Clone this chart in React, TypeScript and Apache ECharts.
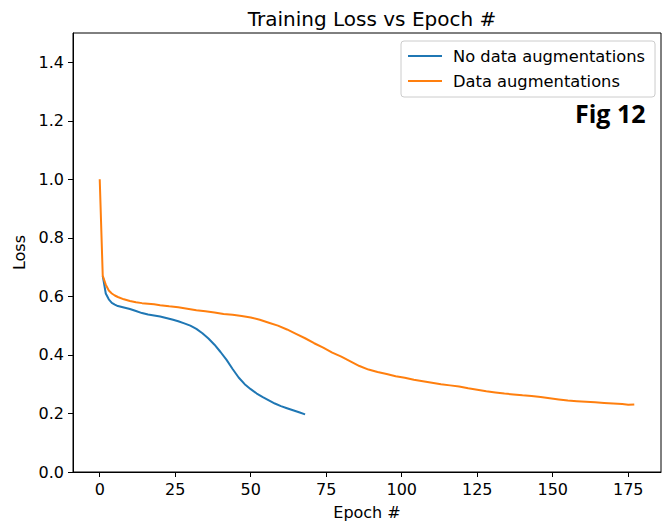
import React, { useEffect, useRef } from "react";
import * as echarts from "echarts";

const xTicks = [0, 25, 50, 75, 100, 125, 150, 175];
const yTicks = [0, 0.2, 0.4, 0.6, 0.8, 1.0, 1.2, 1.4];

const blueEpochs = [1, 2, 3, 4, 5, 6, 8, 10, 12, 14, 16, 18, 20, 22, 24, 26, 28, 30, 32, 34, 36, 38, 40, 42, 44, 46, 48, 50, 52, 54, 56, 58, 60, 62, 64, 66, 68];
const blueLoss = [0.67, 0.61, 0.59, 0.578, 0.572, 0.567, 0.562, 0.557, 0.55, 0.543, 0.538, 0.535, 0.531, 0.526, 0.521, 0.515, 0.508, 0.5, 0.489, 0.474, 0.456, 0.435, 0.41, 0.383, 0.352, 0.323, 0.3, 0.283, 0.268, 0.256, 0.245, 0.234, 0.225, 0.218, 0.211, 0.204, 0.197];

const orangeEpochs = [0, 1, 2, 3, 4, 5, 6, 8, 10, 12, 14, 16, 18, 20, 23, 26, 29, 32, 35, 38, 41, 44, 47, 50, 53, 56, 59, 62, 65, 68, 71, 74, 77, 80, 83, 86, 89, 92, 95, 98, 101, 104, 107, 110, 113, 116, 119, 122, 125, 128, 131, 134, 137, 140, 143, 146, 149, 152, 155, 158, 161, 164, 167, 170, 173, 175, 177];
const orangeLoss = [1.0, 0.67, 0.64, 0.62, 0.61, 0.603, 0.598, 0.59, 0.584, 0.58, 0.577, 0.575, 0.573, 0.57, 0.566, 0.563, 0.558, 0.553, 0.549, 0.545, 0.54, 0.537, 0.533, 0.528, 0.52, 0.51, 0.5, 0.487, 0.472, 0.457, 0.44, 0.425, 0.408, 0.394, 0.378, 0.362, 0.35, 0.342, 0.335, 0.327, 0.322, 0.315, 0.31, 0.305, 0.3, 0.296, 0.292, 0.286, 0.281, 0.276, 0.272, 0.268, 0.265, 0.262, 0.26, 0.256, 0.252, 0.248, 0.244, 0.242, 0.24, 0.238, 0.236, 0.234, 0.232, 0.23, 0.231];

const seriesNames = ["No data augmentations", "Data augmentations"];
const FONT = "DejaVu Sans";

export default function App() {
  const ref = useRef<HTMLDivElement>(null);
  useEffect(() => {
    if (!ref.current) return;
    const chart = echarts.init(ref.current, undefined, { renderer: "svg" });
    const pair = (xs: number[], ys: number[]) => xs.map((x, i) => [x, ys[i]]);
    chart.setOption({
      animation: false,
      backgroundColor: "#ffffff",
      textStyle: { fontFamily: FONT },
      title: {
        text: "Training Loss vs Epoch #",
        left: 367,
        textAlign: "center",
        top: 4,
        textStyle: { fontFamily: FONT, fontSize: 20, fontWeight: "normal", color: "#000" },
      },
      grid: { left: 73, right: 8, top: 33, bottom: 52.5, show: true, borderColor: "#000", borderWidth: 1, backgroundColor: "transparent" },
      legend: {
        left: 401,
        top: 41,
        orient: "vertical",
        icon: "rect",
        itemWidth: 34,
        itemHeight: 2,
        itemGap: 9,
        padding: [7, 10, 8, 7],
        borderColor: "#cccccc",
        borderWidth: 1,
        borderRadius: 3,
        backgroundColor: "rgba(255,255,255,0.8)",
        textStyle: { fontFamily: FONT, fontSize: 16.3, lineHeight: 16, color: "#000", padding: [0, 0, 0, 6] },
        data: seriesNames,
      },
      xAxis: {
        type: "value",
        min: -8.85,
        max: 185.85,
        name: "Epoch #",
        nameLocation: "middle",
        nameGap: 32,
        nameTextStyle: { fontFamily: FONT, fontSize: 16, color: "#000" },
        axisLine: { show: true, onZero: false, lineStyle: { color: "#000", width: 1 } },
        axisTick: { show: true, length: 5, lineStyle: { color: "#000" }, customValues: xTicks },
        axisLabel: { fontFamily: FONT, fontSize: 16, color: "#000", margin: 9, customValues: xTicks },
        splitLine: { show: false },
      },
      yAxis: {
        type: "value",
        min: 0,
        max: 1.5,
        name: "Loss",
        nameLocation: "middle",
        nameGap: 44,
        nameTextStyle: { fontFamily: FONT, fontSize: 16, color: "#000" },
        axisLine: { show: true, onZero: false, lineStyle: { color: "#000", width: 1 } },
        axisTick: { show: true, length: 5, lineStyle: { color: "#000" }, customValues: yTicks },
        axisLabel: { fontFamily: FONT, fontSize: 16, color: "#000", margin: 9, customValues: yTicks, formatter: (v: number) => v.toFixed(1) },
        splitLine: { show: false },
      },
      graphic: [
        {
          type: "text",
          left: 575,
          top: 100,
          style: { text: "Fig 12", fontFamily: "Open Sans", fontWeight: "bold", fontSize: 25, fill: "#000" },
        },
      ],
      series: [
        {
          name: seriesNames[0],
          type: "line",
          data: pair(blueEpochs, blueLoss),
          symbol: "none",
          lineStyle: { color: "#1f77b4", width: 2 },
          itemStyle: { color: "#1f77b4" },
          z: 3,
        },
        {
          name: seriesNames[1],
          type: "line",
          data: pair(orangeEpochs, orangeLoss),
          symbol: "none",
          lineStyle: { color: "#ff7f0e", width: 2 },
          itemStyle: { color: "#ff7f0e" },
          z: 4,
        },
      ],
    });
    return () => chart.dispose();
  }, []);
  return <div ref={ref} style={{ position: "absolute", left: 0, top: 0, width: 669, height: 525 }} />;
}
